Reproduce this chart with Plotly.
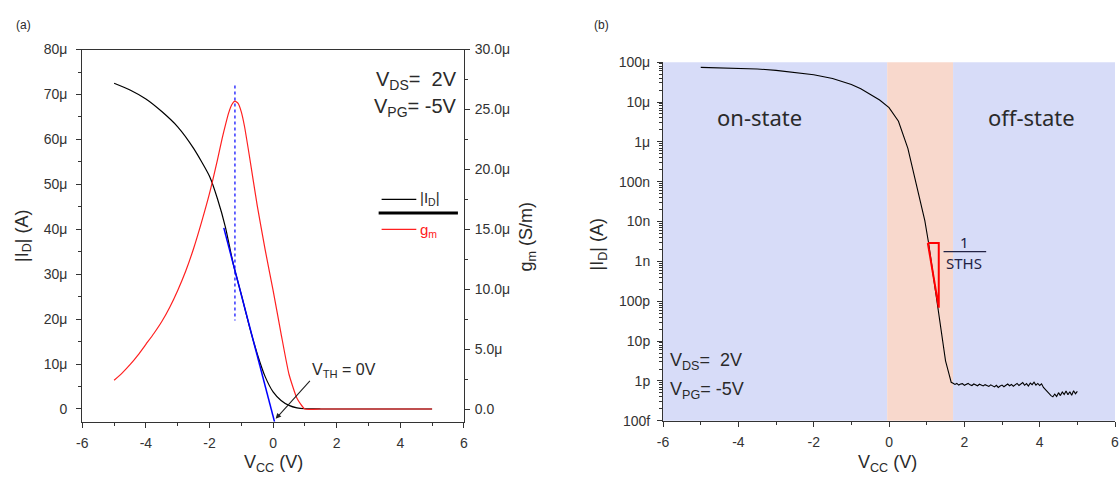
import plotly.graph_objects as go

# ---------------- data: panel (a) ----------------
v_id = [-5, -4.5, -4, -3.5, -3, -2.5, -2, -1.75, -1.5, -1.25, -1, -0.75, -0.5, -0.25,
        0, 0.25, 0.5, 0.75, 1.0, 1.5, 2, 3, 4, 5]
id_ua = [72.5, 71.0, 69.0, 66.2, 62.8, 58.0, 51.8, 46.8, 40.5, 32.2, 25.5, 18.5, 12.3, 7.2,
         3.8, 1.9, 0.8, 0.25, 0.05, 0, 0, 0, 0, 0]                     # uA
v_gm = [-5, -4.75, -4.5, -4.25, -4, -3.75, -3.5, -3.25, -3, -2.75, -2.5, -2.25, -2,
        -1.75, -1.6, -1.5, -1.4, -1.3, -1.2, -1.1, -1.0, -0.9, -0.75, -0.5, -0.25, 0,
        0.25, 0.5, 0.75, 1.0, 1.5, 2, 3, 4, 5]
gm_us = [2.4, 3.0, 3.7, 4.5, 5.4, 6.3, 7.3, 8.5, 9.9, 11.5, 13.4, 15.6, 18.0,
         20.8, 22.6, 23.7, 24.7, 25.4, 25.7, 25.5, 24.8, 23.6, 21.2, 17.0, 13.3, 9.9,
         6.3, 2.9, 0.9, 0.0, 0, 0, 0, 0, 0]                             # uS/m
gm_peak_v = -1.2
tangent_v = [-1.55, 0.045]
tangent_i = [40.3, -2.85]                  # uA
dash_i = [72.0, 19.7]                      # uA

ya_ticks = [0, 10, 20, 30, 40, 50, 60, 70, 80]
ya_text = ["0", "10\u03bc", "20\u03bc", "30\u03bc", "40\u03bc", "50\u03bc", "60\u03bc", "70\u03bc", "80\u03bc"]
yb_ticks = [0, 5, 10, 15, 20, 25, 30]
yb_text = ["0.0", "5.0\u03bc", "10.0\u03bc", "15.0\u03bc", "20.0\u03bc", "25.0\u03bc", "30.0\u03bc"]
x_ticks = [-6, -4, -2, 0, 2, 4, 6]
x_text = ["-6", "-4", "-2", "0", "2", "4", "6"]

# ---------------- data: panel (b) ----------------
v_on = [-5, -4.5, -4, -3.5, -3, -2.5, -2, -1.5, -1.25, -1, -0.75, -0.5, -0.25, 0,
        0.25, 0.5, 0.75, 0.95, 1.05, 1.15, 1.25, 1.38, 1.5, 1.6, 1.65]
i_on = [7.4e-5, 7.25e-5, 7.05e-5, 6.75e-5, 6.2e-5, 5.6e-5, 4.85e-5, 3.9e-5, 3.3e-5,
        2.75e-5, 2.14e-5, 1.58e-5, 1.12e-5, 7.2e-6, 3.3e-6, 6.9e-7, 7.4e-8, 1.05e-8,
        2.9e-9, 6.3e-10, 1.2e-10, 2.2e-11, 3.2e-12, 1.4e-12, 9.3e-13]
v_off = [1.70, 1.75, 1.80, 1.85, 1.90, 1.95, 2.00, 2.05, 2.10, 2.15, 2.20, 2.25, 2.30,
         2.35, 2.40, 2.45, 2.50, 2.55, 2.60, 2.65, 2.70, 2.75, 2.80, 2.85, 2.90, 2.95,
         3.00, 3.05, 3.10, 3.15, 3.20, 3.25, 3.30, 3.35, 3.40, 3.45, 3.50, 3.55, 3.60,
         3.65, 3.70, 3.75, 3.80, 3.85, 3.90, 3.95, 4.00, 4.05, 4.10, 4.15, 4.20, 4.25,
         4.30, 4.35, 4.40, 4.45, 4.50, 4.55, 4.60, 4.65, 4.70, 4.75, 4.80, 4.85, 4.90,
         4.95, 5.00]
i_off_pA = [0.88, 0.82, 0.87, 0.79, 0.84, 0.86, 0.78, 0.83, 0.87, 0.80, 0.77, 0.84, 0.79,
            0.76, 0.83, 0.78, 0.75, 0.81, 0.77, 0.73, 0.80, 0.74, 0.71, 0.78, 0.69, 0.75,
            0.79, 0.72, 0.80, 0.84, 0.76, 0.82, 0.74, 0.81, 0.87, 0.77, 0.85, 0.91, 0.78,
            0.86, 0.75, 0.89, 0.81, 0.93, 0.79, 0.87, 0.77, 0.85, 0.69, 0.61, 0.54, 0.47,
            0.43, 0.40, 0.47, 0.41, 0.51, 0.43, 0.53, 0.46, 0.56, 0.45, 0.54, 0.44, 0.57,
            0.48, 0.55]
sths_v = [1.03, 1.32, 1.32, 1.03]
sths_i = [2.9e-9, 2.9e-9, 6.9e-11, 2.9e-9]
region_edges = [-6, -0.05, 1.7, 6]
region_colors = ["#d7dcf8", "#f8d8cc", "#d7dcf8"]

yl_ticks = [1e-13, 1e-12, 1e-11, 1e-10, 1e-9, 1e-8, 1e-7, 1e-6, 1e-5, 1e-4]
yl_text = ["100f", "1p", "10p", "100p", "1n", "10n", "100n", "1\u03bc", "10\u03bc", "100\u03bc"]
yl_minor = [m * 10.0 ** e for e in range(-13, -4) for m in range(2, 10)]

# ---------------- figure ----------------
W, H = 1120, 483
FONT = "Liberation Sans, Arial, sans-serif"
FONT2 = "Noto Sans, Open Sans, sans-serif"
AX = "#333333"
TXT = "#2a2a2a"

def px(x):
    return x / W

def py(y):
    return 1 - y / H

fig = go.Figure()

u = 1e-6
fig.add_trace(go.Scatter(x=v_id, y=[v * u for v in id_ua], mode="lines",
                         line=dict(color="black", width=1.2, shape="spline", smoothing=0.6),
                         xaxis="x", yaxis="y", showlegend=False))
fig.add_trace(go.Scatter(x=v_gm, y=[v * u for v in gm_us], mode="lines",
                         line=dict(color="#ff2020", width=1.2, shape="spline", smoothing=0.5),
                         xaxis="x", yaxis="y2", showlegend=False))
fig.add_trace(go.Scatter(x=tangent_v, y=[v * u for v in tangent_i], mode="lines",
                         line=dict(color="#0000ff", width=1.5), xaxis="x", yaxis="y",
                         showlegend=False))
fig.add_trace(go.Scatter(x=[gm_peak_v, gm_peak_v], y=[v * u for v in dash_i], mode="lines",
                         line=dict(color="#0000ff", width=1.2, dash="3px,3px"), xaxis="x",
                         yaxis="y", showlegend=False))

fig.add_trace(go.Scatter(x=v_on + v_off, y=i_on + [v * 1e-12 for v in i_off_pA],
                         mode="lines", line=dict(color="black", width=1.1),
                         xaxis="x2", yaxis="y3", showlegend=False))
fig.add_trace(go.Scatter(x=sths_v, y=sths_i, mode="lines",
                         line=dict(color="#ff0000", width=2), xaxis="x2", yaxis="y3",
                         showlegend=False))

shapes = []
for i in range(3):
    shapes.append(dict(type="rect", xref="x2", yref="y3 domain",
                       x0=region_edges[i], x1=region_edges[i + 1], y0=0, y1=1,
                       fillcolor=region_colors[i], line=dict(width=0), layer="below"))
# legend marks (panel a)
shapes.append(dict(type="line", xref="paper", yref="paper", x0=px(379), x1=px(414),
                   y0=py(198), y1=py(198), line=dict(color="black", width=1.2)))
shapes.append(dict(type="line", xref="paper", yref="paper", x0=px(376), x1=px(456),
                   y0=py(212), y1=py(212), line=dict(color="black", width=3)))
shapes.append(dict(type="line", xref="paper", yref="paper", x0=px(379), x1=px(414),
                   y0=py(229), y1=py(229), line=dict(color="#ff2020", width=1.2)))
# fraction bar
shapes.append(dict(type="line", xref="paper", yref="paper", x0=px(946), x1=px(989),
                   y0=py(252), y1=py(252), line=dict(color="#222244", width=1.2)))
fig.update_layout(shapes=shapes)

ann = []

def txt(x, y, s, size=13, xanchor="center", angle=0, color=TXT, family=FONT):
    ann.append(dict(x=px(x), y=py(y), xref="paper", yref="paper", text=s, showarrow=False,
                    xanchor=xanchor, yanchor="middle", textangle=angle,
                    font=dict(family=family, size=size, color=color)))

txt(18, 18, "(a)", 12)
txt(601, 18, "(b)", 12)
txt(17, 236, "|I<sub>D</sub>| (A)", 18, angle=-90)
txt(526, 236, "g<sub>m</sub> (S/m)", 18, angle=-90)
txt(598, 245, "|I<sub>D</sub>| (A)", 18, angle=-90)
txt(270, 471, "V<sub>CC</sub> (V)", 18)
txt(889, 471, "V<sub>CC</sub> (V)", 18)
txt(457, 75, "V<sub>DS</sub>=  2V", 20, xanchor="right")
txt(457, 103, "V<sub>PG</sub>= -5V", 20, xanchor="right")
txt(416, 197, "|I<sub>D</sub>|", 15, xanchor="left")
txt(416, 230, "g<sub>m</sub>", 15, xanchor="left", color="#ff2020")
txt(307, 375, "V<sub>TH</sub> = 0V", 16, xanchor="left")
txt(760, 113, "on-state", 22, family=FONT2)
txt(1035, 113, "off-state", 22, family=FONT2)
txt(668, 366, "V<sub>DS</sub>=  2V", 18, xanchor="left")
txt(668, 396, "V<sub>PG</sub>= -5V", 18, xanchor="left")
txt(967, 242, "1", 15, color="#222244", family=FONT2)
txt(967, 264, "STHS", 15, color="#222244", family=FONT2)

ann.append(dict(x=0.08, y=-2.2e-6, xref="x", yref="y", ax=1.2, ay=6.6e-6, axref="x",
                ayref="y", showarrow=True, arrowhead=2, arrowsize=1, arrowwidth=1.1,
                arrowcolor="#222222", text=""))
fig.update_layout(annotations=ann)

tickfont = dict(family=FONT, size=14, color=AX)
common_x = dict(range=[-6, 6], tickmode="array", tickvals=x_ticks, ticktext=x_text,
                ticks="outside", ticklen=5, tickwidth=1, tickcolor=AX, showline=True,
                linecolor=AX, linewidth=1.2, showgrid=False, zeroline=False,
                tickfont=tickfont, ticklabelstandoff=3,
                minor=dict(ticks="outside", ticklen=3, tickcolor=AX, dtick=1, tick0=0,
                           showgrid=False))

fig.update_layout(
    width=W, height=H, margin=dict(l=0, r=0, t=0, b=0),
    paper_bgcolor="white", plot_bgcolor="rgba(0,0,0,0)", showlegend=False,
    xaxis=dict(domain=[px(77), px(462)], anchor="y", mirror=True, **common_x),
    yaxis=dict(domain=[py(428), py(43)], anchor="x", range=[-2.86e-6, 80e-6],
               tickmode="array", tickvals=[t * u for t in ya_ticks], ticktext=ya_text,
               ticks="outside", ticklen=5, tickcolor=AX, showline=True, linecolor=AX,
               linewidth=1.2, showgrid=False, zeroline=False, tickfont=tickfont,
               ticklabelstandoff=6,
               minor=dict(ticks="outside", ticklen=3, tickcolor=AX, dtick=5e-6, tick0=0,
                          showgrid=False)),
    yaxis2=dict(overlaying="y", side="right", anchor="x", range=[-1.07e-6, 30e-6],
                tickmode="array", tickvals=[t * u for t in yb_ticks], ticktext=yb_text,
                ticks="outside", ticklen=5, tickcolor=AX, showline=True, linecolor=AX,
                linewidth=1.2, showgrid=False, zeroline=False, tickfont=tickfont,
                ticklabelstandoff=2,
                minor=dict(ticks="outside", ticklen=3, tickcolor=AX, dtick=2.5e-6,
                           tick0=0, showgrid=False)),
    xaxis2=dict(domain=[px(663), px(1119)], anchor="y3", **common_x),
    yaxis3=dict(domain=[py(427), py(56)], anchor="x2", type="log", range=[-13, -4],
                tickmode="array", tickvals=yl_ticks, ticktext=yl_text, ticks="outside",
                ticklen=5, tickcolor=AX, showline=True, linecolor=AX, linewidth=1.2,
                showgrid=False, zeroline=False, tickfont=tickfont, ticklabelstandoff=4,
                minor=dict(ticks="outside", ticklen=2.5, tickcolor=AX, tickmode="array",
                           tickvals=yl_minor, showgrid=False)),
)

fig.write_html("out.html")
